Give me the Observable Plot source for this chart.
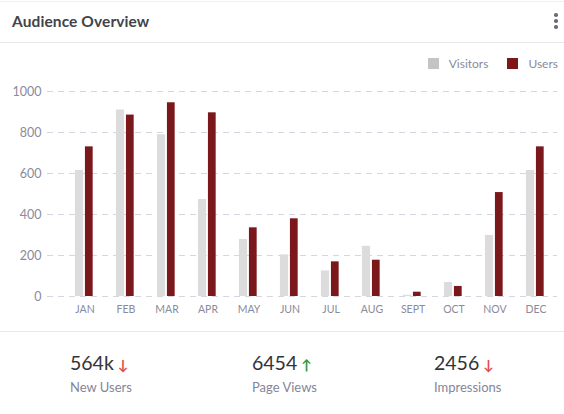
<!DOCTYPE html>
<html>
<head>
<meta charset="utf-8">
<script src="https://cdn.jsdelivr.net/npm/d3@7"></script>
<script src="https://cdn.jsdelivr.net/npm/@observablehq/plot@0.6"></script>
<style>
  html, body { margin: 0; padding: 0; background: #fff; }
  body { width: 564px; height: 414px; position: relative; overflow: hidden; font-family: Lato, "Open Sans", sans-serif; }
  .line { position: absolute; left: 0; width: 564px; height: 1px; background: #e8e8ec; }
  #title { position: absolute; left: 12px; top: 12px; font-size: 15.5px; font-weight: 700; color: #434348; letter-spacing: 0.1px; }
  .dot { position: absolute; left: 554px; width: 3.5px; height: 3.5px; border-radius: 50%; background: #6b6b7b; }
  #legend { position: absolute; top: 56px; right: 6px; display: flex; align-items: center; font-size: 12px; color: #8a8a9c; }
  #legend .sw { width: 11px; height: 11px; margin-right: 10px; }
  #legend .item { display: flex; align-items: center; margin-left: 19px; }
  #chart { position: absolute; left: 0; top: 80px; }
  .stat { position: absolute; top: 352px; }
  .stat .num { font-size: 19.5px; color: #333338; line-height: 22px; }
  .stat .arr { font-size: 14px; margin-left: 4px; font-weight: 700; }
  .stat .lbl { font-size: 13px; color: #85859a; margin-top: 3px; }
</style>
</head>
<body>
<div class="line" style="top:1px;background:#f0f0f2"></div>
<div id="title">Audience Overview</div>
<div class="dot" style="top:13px"></div>
<div class="dot" style="top:19px"></div>
<div class="dot" style="top:25px"></div>
<div class="line" style="top:42px"></div>
<div id="legend"></div>
<div id="chart"></div>
<div class="line" style="top:331px"></div>
<div id="stats"></div>
<script>
const months = ["JAN","FEB","MAR","APR","MAY","JUN","JUL","AUG","SEPT","OCT","NOV","DEC"];
const visitors = [615, 910, 789, 473, 278, 203, 125, 245, 6, 68, 298, 615];
const users = [730, 885, 945, 896, 335, 379, 169, 177, 21, 49, 507, 730];
const seriesNames = ["Visitors", "Users"];
const seriesColors = ["#dcdcdc", "#7a181c"];
const legendColors = ["#c4c4c4", "#7a181c"];
const yTicks = [0, 200, 400, 600, 800, 1000];
const statValues = ["564k", "6454", "2456"];
const statLabels = ["New Users", "Page Views", "Impressions"];
const statTrend = ["down", "up", "down"];
const statX = [70, 252, 434];

const data = months.map((m, i) => ({month: m, visitors: visitors[i], users: users[i]}));

const left = 62.4, right = 557.6;
const step = (right - left) / months.length;

const chart = Plot.plot({
  width: 564,
  height: 245,
  marginLeft: 47,
  marginRight: 7,
  marginTop: 11,
  marginBottom: 29,
  style: {fontFamily: "Lato, 'Open Sans', sans-serif", background: "transparent"},
  x: {domain: months, range: [left, right], padding: 0, label: null},
  y: {domain: [0, 1000], label: null},
  marks: [
    Plot.ruleY(yTicks, {stroke: "#d6d6e0", strokeDasharray: "6,5", strokeWidth: 1}),
    Plot.barY(data, {x: "month", y: "visitors", fill: seriesColors[0],
      insetLeft: step/2 - 9.7, insetRight: step/2 + 1.3}),
    Plot.barY(data, {x: "month", y: "users", fill: seriesColors[1],
      insetLeft: step/2 + 0.3, insetRight: step/2 - 8.3}),
    Plot.axisY({ticks: yTicks, tickFormat: d3.format("d"), tickSize: 0, tickPadding: 6, fontSize: 12.5, label: null}),
    Plot.axisX({tickSize: 0, tickPadding: 9, fontSize: 10.5, label: null})
  ]
});
chart.querySelectorAll("text").forEach(t => t.style.fill = "#8a8a9c");
document.getElementById("chart").appendChild(chart);

const legend = document.getElementById("legend");
seriesNames.forEach((n, i) => {
  const it = document.createElement("div");
  it.className = "item";
  const sw = document.createElement("div");
  sw.className = "sw";
  sw.style.background = legendColors[i];
  const tx = document.createElement("span");
  tx.textContent = n;
  it.appendChild(sw); it.appendChild(tx);
  legend.appendChild(it);
});

const stats = document.getElementById("stats");
statValues.forEach((v, i) => {
  const d = document.createElement("div");
  d.className = "stat";
  d.style.left = statX[i] + "px";
  const up = statTrend[i] === "up";
  d.innerHTML = `<div class="num">${v}<span class="arr" style="color:${up ? "#2e9b3a" : "#e84a4a"}">${up ? "↑" : "↓"}</span></div><div class="lbl">${statLabels[i]}</div>`;
  stats.appendChild(d);
});
</script>
</body>
</html>
